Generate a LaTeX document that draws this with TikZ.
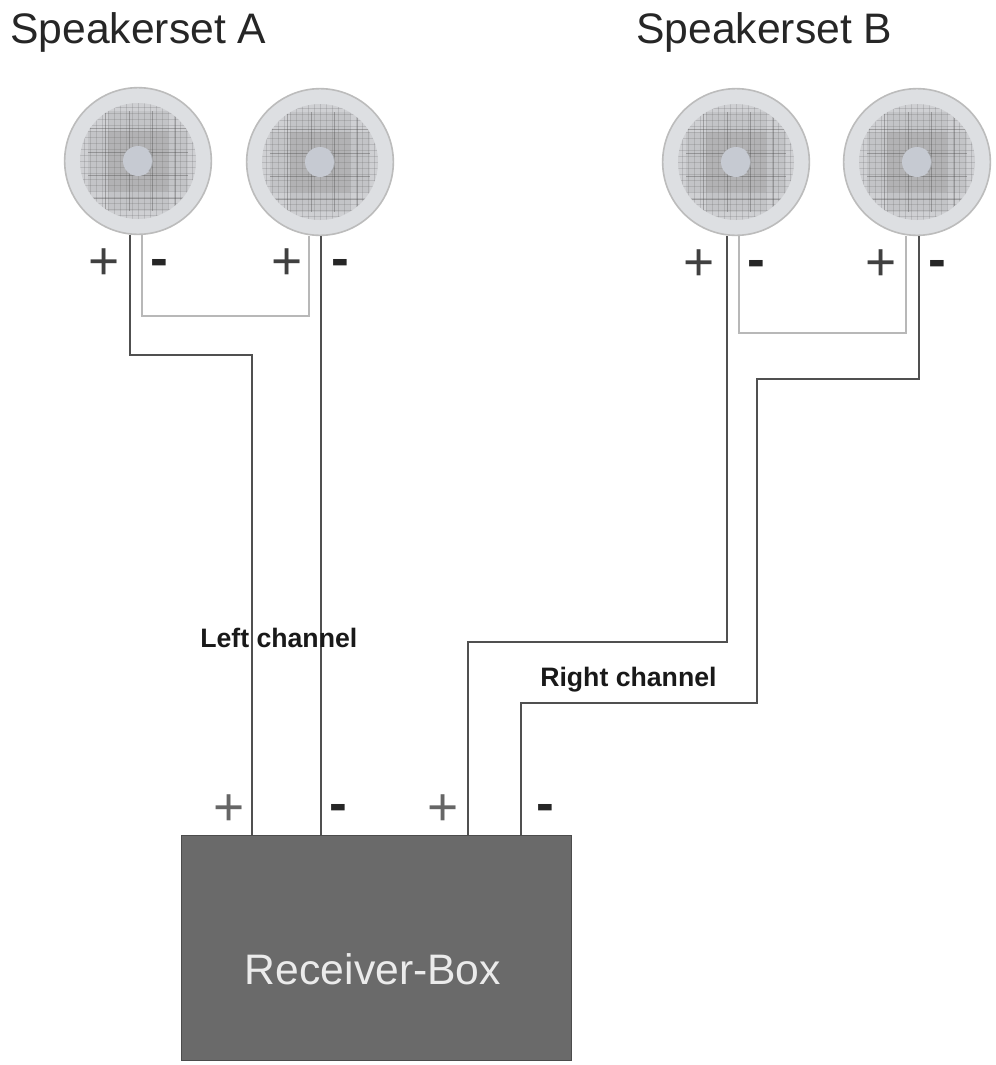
\documentclass[tikz,border=0pt]{standalone}
\usepackage{fontspec}
\setmainfont{Liberation Sans}
\definecolor{wiredark}{HTML}{505050}
\definecolor{wirelight}{HTML}{B8B8B8}
\definecolor{boxgray}{HTML}{6A6A6A}
\definecolor{rim}{HTML}{DDDFE2}
\definecolor{rimedge}{HTML}{BCBCBC}
\definecolor{mesh}{HTML}{CFD0D3}
\definecolor{cone}{HTML}{C6CAD2}
\tikzset{
  x=0.75pt,y=-0.75pt,
  speakernode/.style={circle,draw=rimedge,line width=1.2pt,fill=rim,minimum size=110pt,inner sep=0pt},
  wiredk/.style={draw=wiredark,line width=1.6pt},
  wirelt/.style={draw=wirelight,line width=1.3pt},
  title/.style={anchor=base west,inner sep=0pt,font=\fontsize{32}{32}\selectfont,text=black!85},
  chan/.style={anchor=base west,inner sep=0pt,font=\fontsize{20}{20}\selectfont\bfseries,text=black!90},
  plusmark/.style={inner sep=0pt,font=\fontsize{40}{40}\selectfont,text=black!75},
  plusthin/.style={inner sep=0pt,font=\fontsize{40}{40}\selectfont,text=black!60},
  minusmark/.style={inner sep=0pt,font=\fontsize{40}{40}\selectfont\bfseries,text=black!85},
  receiver/.style={draw=black!70,line width=1pt,fill=boxgray,minimum width=292.5pt,minimum height=168.75pt,inner sep=0pt},
}
\newcommand{\speakerunit}[3]{%
  \node[speakernode] (#1) at (#2,#3) {};
  \begin{scope}[shift={(#2,#3)}]
    \begin{scope}
      \clip (0,0) circle[radius=58];
      \fill[mesh] (-60,-60) rectangle (60,60);
      \fill[gray,opacity=.14] (-50,-30) rectangle (50,30);
      \fill[gray,opacity=.14] (-30,-50) rectangle (30,50);
      \fill[gray,opacity=.12] (-30,-30) rectangle (30,30);
      \foreach \k in {-54,-48,...,54} {
        \draw[black!60,line width=.3pt,opacity=.22] (-58,\k) -- (58,\k);
        \draw[black!60,line width=.3pt,opacity=.22] (\k,-58) -- (\k,58);
      }
      \foreach \k in {-33,-9,14,37} {
        \draw[black!75,line width=.5pt,opacity=.35] (-50,\k) -- (50,\k);
        \draw[black!75,line width=.5pt,opacity=.35] (\k,-50) -- (\k,50);
      }
    \end{scope}
    \fill[cone] (0,0) circle[radius=15];
    \draw[black!45,line width=.8pt,opacity=.6] (11,-10) arc[start angle=-42,end angle=42,radius=15];
  \end{scope}
}
\begin{document}
\begin{tikzpicture}
\useasboundingbox (0,0) rectangle (996,1065);
\fill[white] (0,0) rectangle (996,1065);

\node[title] (titleA) at (10,43) {Speakerset A};
\node[title] (titleB) at (636,43) {Speakerset B};

\speakerunit{a1}{138}{161}
\speakerunit{a2}{320}{162}
\speakerunit{b1}{736}{162}
\speakerunit{b2}{917}{162}

% terminals
\coordinate (a1p) at ([xshift=-6pt]a1.south);
\coordinate (a1n) at ([xshift=2.8pt]a1.south);
\coordinate (a2p) at ([xshift=-8.2pt]a2.south);
\coordinate (a2n) at ([xshift=0.5pt]a2.south);
\coordinate (b1p) at ([xshift=-6.8pt]b1.south);
\coordinate (b1n) at ([xshift=2.3pt]b1.south);
\coordinate (b2p) at ([xshift=-8.2pt]b2.south);
\coordinate (b2n) at ([xshift=1.5pt]b2.south);
\coordinate (rLp) at (252,835);
\coordinate (rLn) at (321,835);
\coordinate (rRp) at (468,835);
\coordinate (rRn) at (521,835);
\coordinate (ja) at (130,355);
\coordinate (jb) at (468,642);
\coordinate (jc1) at (757,379);
\coordinate (jc2) at (757,703);
\coordinate (lA) at (200,316);
\coordinate (lB) at (800,333);

\draw[wirelt] (a1n) |- (lA) -| (a2p);
\draw[wirelt] (b1n) |- (lB) -| (b2p);
\draw[wiredk] (a1p) -- (a1p |- ja) -| (rLp);
\draw[wiredk] (a2n) -- (a2n |- rLn);
\draw[wiredk] (b1p) |- (jb) -- (rRp);
\draw[wiredk] (b2n) |- (jc1) -- (jc2) -| (rRn);

\node[receiver,anchor=north west] (box) at (181,835) {};
\node[inner sep=0pt,anchor=base,font=\fontsize{32}{32}\selectfont,text=white!92!black] (boxlabel) at (373,984) {Receiver-Box};

\node[chan] (leftch) at (200,647) {Left channel};
\node[chan] (rightch) at (540,686) {Right channel};

\node[plusmark] (pa1) at (104,264) {+};
\node[plusmark] (pa2) at (287,264) {+};
\node[plusmark] (pb1) at (699,265) {+};
\node[plusmark] (pb2) at (881,265) {+};
\node[minusmark] (ma1) at (159,268) {-};
\node[minusmark] (ma2) at (340,268) {-};
\node[minusmark] (mb1) at (756,269) {-};
\node[minusmark] (mb2) at (937,269) {-};
\node[plusthin] (prl) at (229,810) {+};
\node[plusthin] (prr) at (443,810) {+};
\node[minusmark] (mrl) at (338,813) {-};
\node[minusmark] (mrr) at (545,813) {-};
\end{tikzpicture}
\end{document}
